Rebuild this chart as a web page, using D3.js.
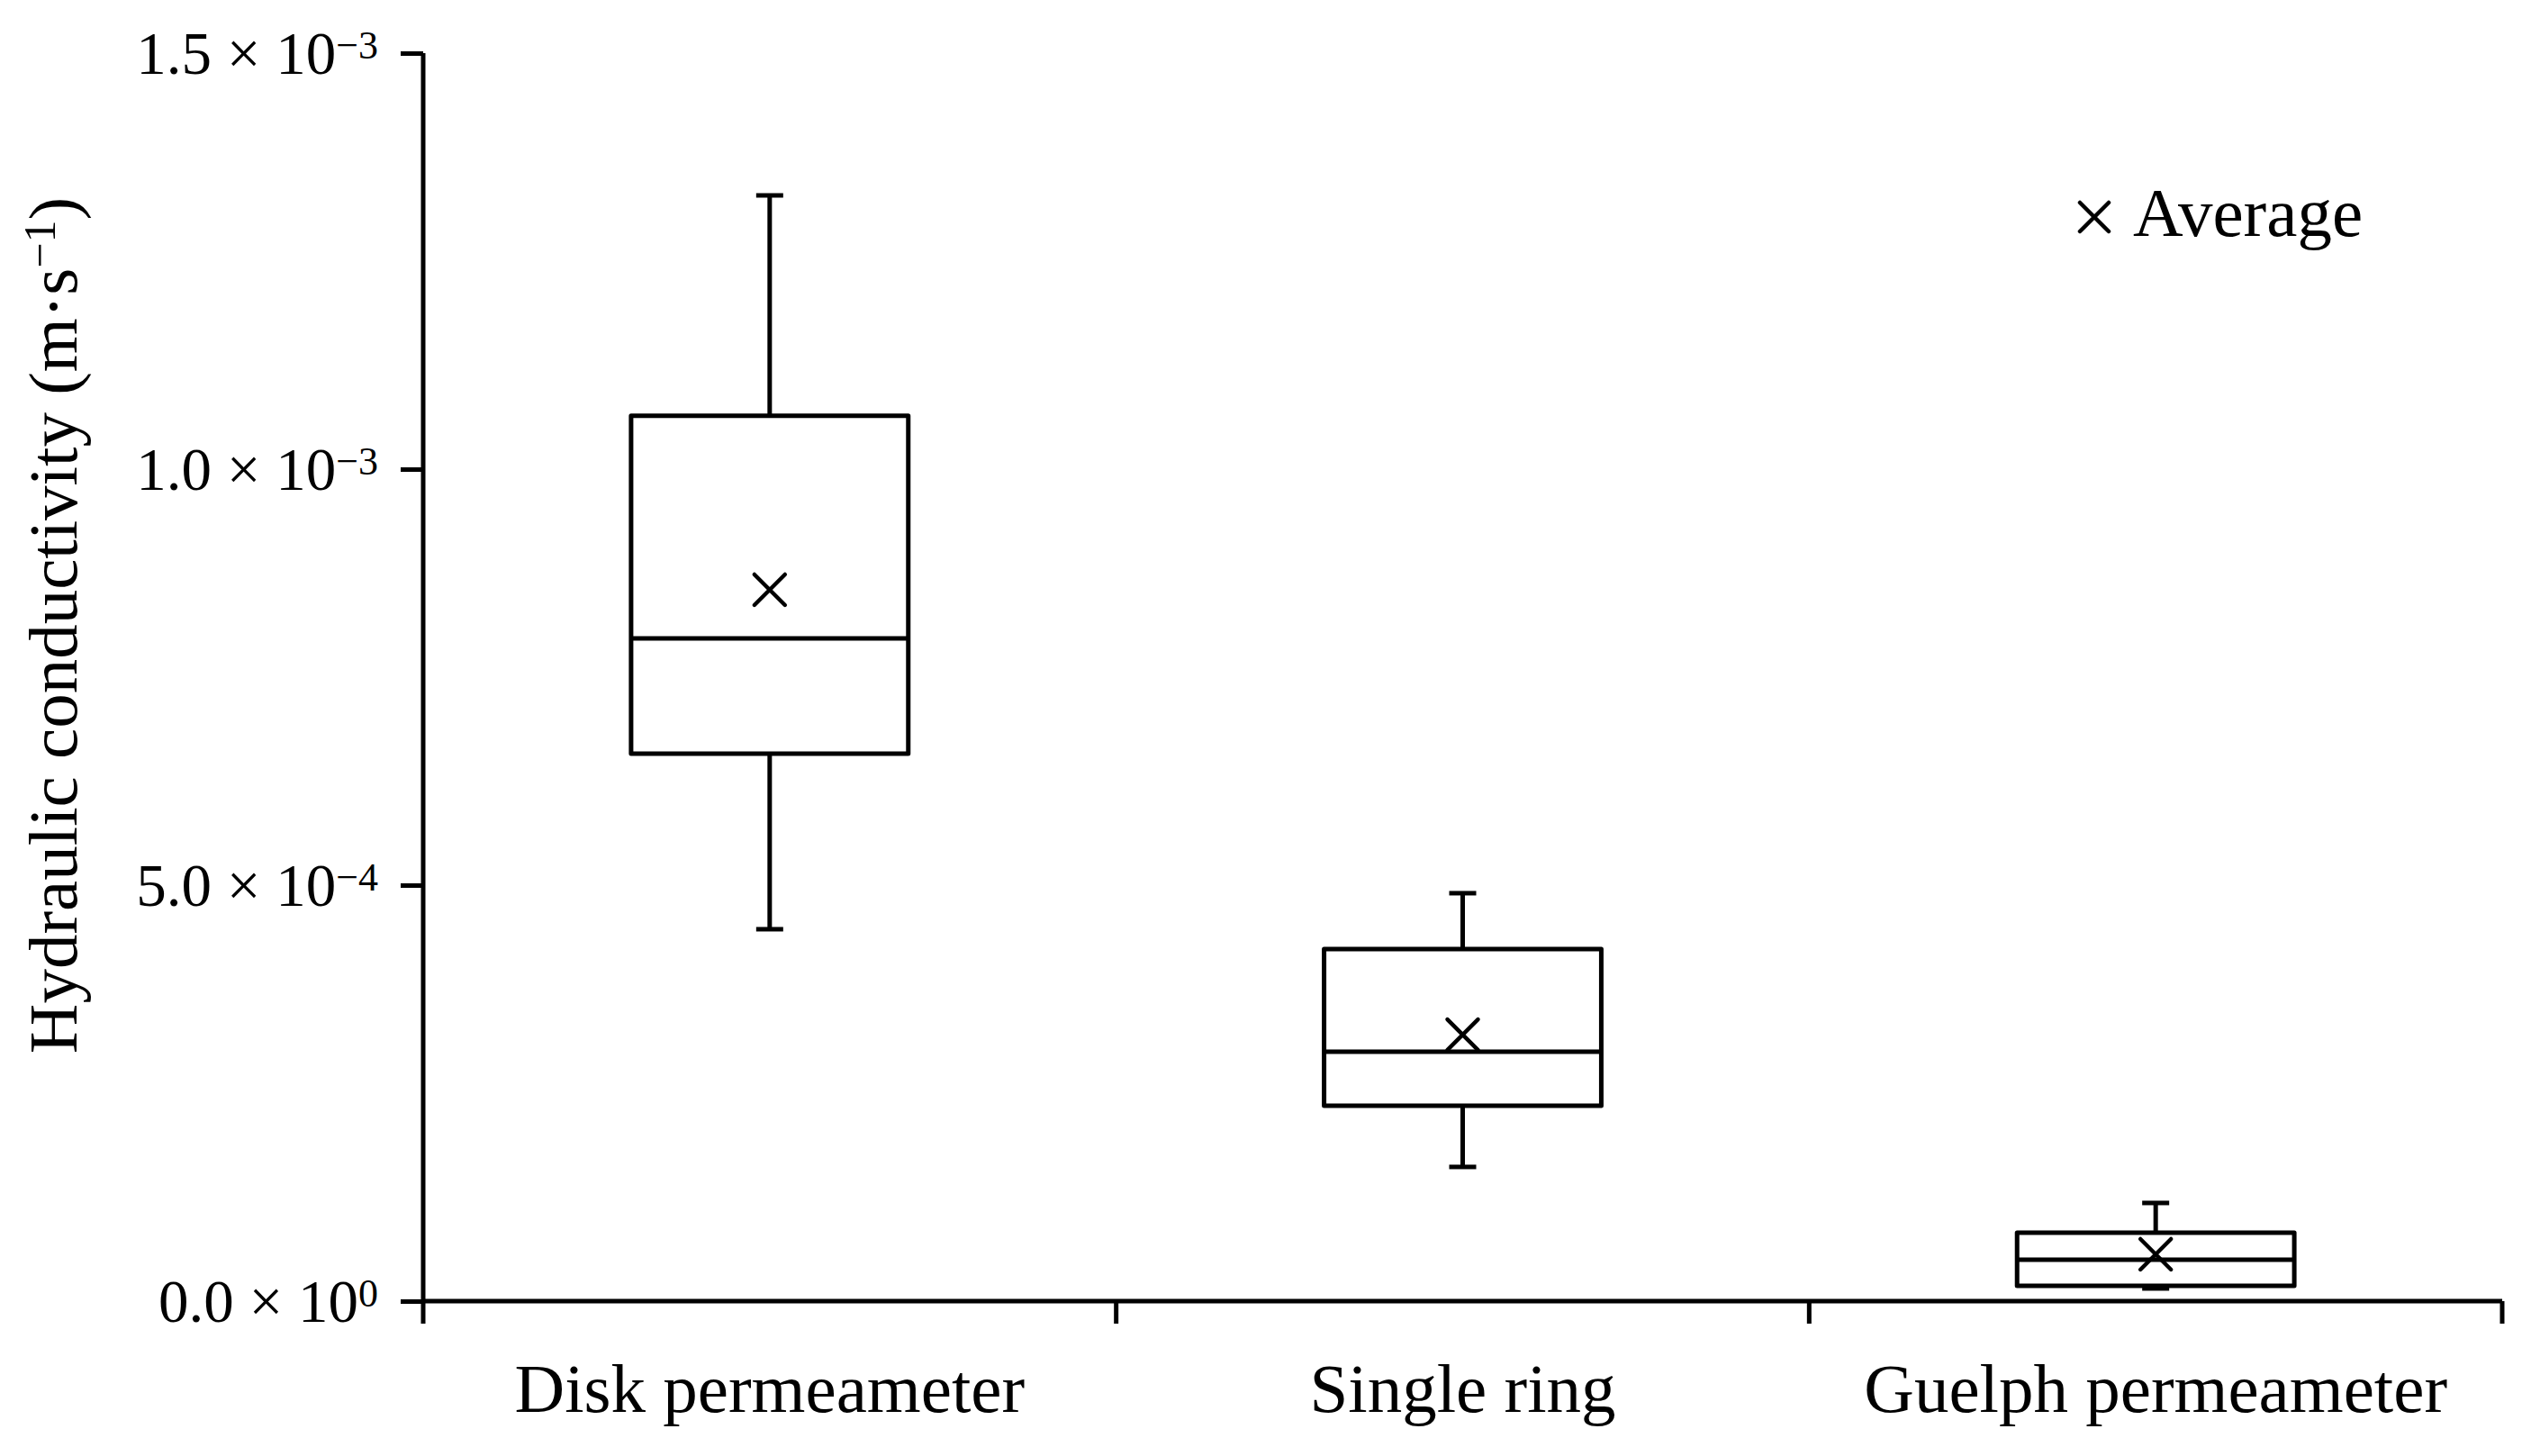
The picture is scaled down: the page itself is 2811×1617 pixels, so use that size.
<!DOCTYPE html>
<html>
<head>
<meta charset="utf-8">
<script src="https://cdn.jsdelivr.net/npm/d3@7"></script>
<style>
  html, body { margin: 0; padding: 0; background: #fff; }
  svg { display: block; }
</style>
</head>
<body>
<script>
// ---- data ----
const categories = ["Disk permeameter", "Single ring", "Guelph permeameter"];
const whiskerLow  = [0.447e-3, 0.1613e-3, 0.0152e-3];
const q1          = [0.658e-3, 0.2348e-3, 0.0184e-3];
const median      = [0.7965e-3, 0.2998e-3, 0.0498e-3];
const q3          = [1.064e-3, 0.4232e-3, 0.0823e-3];
const whiskerHigh = [1.329e-3, 0.4903e-3, 0.118e-3];
const average     = [0.855e-3, 0.3203e-3, 0.0563e-3];

const yTickValues   = [0, 5e-4, 1e-3, 1.5e-3];
const yTickMantissa = ["0.0", "5.0", "1.0", "1.5"];
const yTickExponent = ["0", "\u22124", "\u22123", "\u22123"];

const yTitle = "Hydraulic conductivity (m\u00B7s";
const yTitleExp = "\u22121";
const legendLabel = "Average";

// ---- layout ----
const W = 2811, H = 1617;
const mLeft = 470, mRight = 2779, mTop = 59, mBottom = 1445;
const serif = "'Liberation Serif', 'Times New Roman', serif";

const svg = d3.select("body").append("svg")
  .attr("width", W).attr("height", H);

const x = d3.scaleBand().domain(categories).range([mLeft, mRight]).padding(0);
const y = d3.scaleLinear().domain([0, 1.5e-3]).range([mBottom, mTop]);

const rows = categories.map((c, i) => ({
  c, lo: whiskerLow[i], q1: q1[i], med: median[i], q3: q3[i], hi: whiskerHigh[i], avg: average[i]
}));

const sw = 5;
const boxW = x.bandwidth() * 0.4;
const capW = 30;

// ---- y axis ----
const yAxis = d3.axisLeft(y).tickValues(yTickValues).tickSize(25).tickSizeOuter(0).tickFormat("");
const gy = svg.append("g").attr("transform", `translate(${mLeft},0)`).call(yAxis);
gy.select(".domain").remove();
gy.selectAll(".tick line").attr("stroke", "#000").attr("stroke-width", sw);
gy.selectAll(".tick").each(function(d, i) {
  const t = d3.select(this).append("text")
    .attr("x", -50).attr("y", 0).attr("dy", "0.34em")
    .attr("text-anchor", "end")
    .attr("fill", "#000")
    .style("font-family", serif).style("font-size", "67px");
  t.append("tspan").text(yTickMantissa[i] + " \u00D7 10");
  t.append("tspan").attr("dy", -17).style("font-size", "44px").text(yTickExponent[i]);
});
svg.append("line")
  .attr("x1", mLeft).attr("x2", mLeft)
  .attr("y1", y(1.5e-3)).attr("y2", y(0) + 25)
  .attr("stroke", "#000").attr("stroke-width", sw);

// ---- x axis ----
const xAxis = d3.axisBottom(x).tickSize(0);
const gx = svg.append("g").attr("transform", `translate(0,${mBottom})`).call(xAxis);
gx.select(".domain").remove();
gx.selectAll(".tick text")
  .attr("y", 123).attr("dy", 0)
  .attr("fill", "#000")
  .style("font-family", serif).style("font-size", "77px");
svg.append("line")
  .attr("x1", mLeft - 2).attr("x2", mRight)
  .attr("y1", mBottom).attr("y2", mBottom)
  .attr("stroke", "#000").attr("stroke-width", sw);
const boundaries = categories.map(c => x(c)).concat([x(categories[categories.length - 1]) + x.bandwidth()]);
svg.append("g").selectAll("line").data(boundaries.slice(1)).join("line")
  .attr("x1", d => d).attr("x2", d => d)
  .attr("y1", mBottom).attr("y2", mBottom + 25)
  .attr("stroke", "#000").attr("stroke-width", sw);

// ---- y title ----
const yt = svg.append("text")
  .attr("transform", `translate(85,${(215 + 1174) / 2}) rotate(-90)`)
  .attr("text-anchor", "middle")
  .attr("fill", "#000")
  .style("font-family", serif).style("font-size", "77px");
yt.append("tspan").text(yTitle);
yt.append("tspan").attr("dy", -24).style("font-size", "50px").text(yTitleExp);
yt.append("tspan").attr("dy", 24).text(")");

// ---- boxes ----
const g = svg.append("g").attr("fill", "none").attr("stroke", "#000")
  .attr("stroke-width", sw).attr("stroke-linejoin", "round");

const cx = d => x(d.c) + x.bandwidth() / 2;

// whiskers
g.selectAll(".wh").data(rows).join("line").attr("class", "wh")
  .attr("x1", cx).attr("x2", cx)
  .attr("y1", d => y(d.q3)).attr("y2", d => y(d.hi));
g.selectAll(".wl").data(rows).join("line").attr("class", "wl")
  .attr("x1", cx).attr("x2", cx)
  .attr("y1", d => y(d.q1)).attr("y2", d => y(d.lo));
g.selectAll(".ch").data(rows).join("line").attr("class", "ch")
  .attr("x1", d => cx(d) - capW / 2).attr("x2", d => cx(d) + capW / 2)
  .attr("y1", d => y(d.hi)).attr("y2", d => y(d.hi));
g.selectAll(".cl").data(rows).join("line").attr("class", "cl")
  .attr("x1", d => cx(d) - capW / 2).attr("x2", d => cx(d) + capW / 2)
  .attr("y1", d => y(d.lo)).attr("y2", d => y(d.lo));

// boxes
g.selectAll("rect").data(rows).join("rect")
  .attr("x", d => cx(d) - boxW / 2).attr("width", boxW)
  .attr("y", d => y(d.q3)).attr("height", d => y(d.q1) - y(d.q3))
  .attr("fill", "#fff");
g.selectAll(".med").data(rows).join("line").attr("class", "med")
  .attr("x1", d => cx(d) - boxW / 2).attr("x2", d => cx(d) + boxW / 2)
  .attr("y1", d => y(d.med)).attr("y2", d => y(d.med));

// averages
const crossPath = (px, py, h) => `M${px - h},${py - h}L${px + h},${py + h}M${px - h},${py + h}L${px + h},${py - h}`;
g.selectAll(".avg").data(rows).join("path").attr("class", "avg")
  .attr("d", d => crossPath(cx(d), y(d.avg), 17))
  .attr("stroke-width", 4.5).attr("stroke-linecap", "round");

// ---- legend ----
svg.append("path")
  .attr("d", crossPath(2326, 241, 16))
  .attr("stroke", "#000").attr("stroke-width", 4.5).attr("stroke-linecap", "round");
svg.append("text")
  .attr("x", 2369).attr("y", 262)
  .attr("fill", "#000")
  .style("font-family", serif).style("font-size", "77px")
  .text(legendLabel);
</script>
</body>
</html>
